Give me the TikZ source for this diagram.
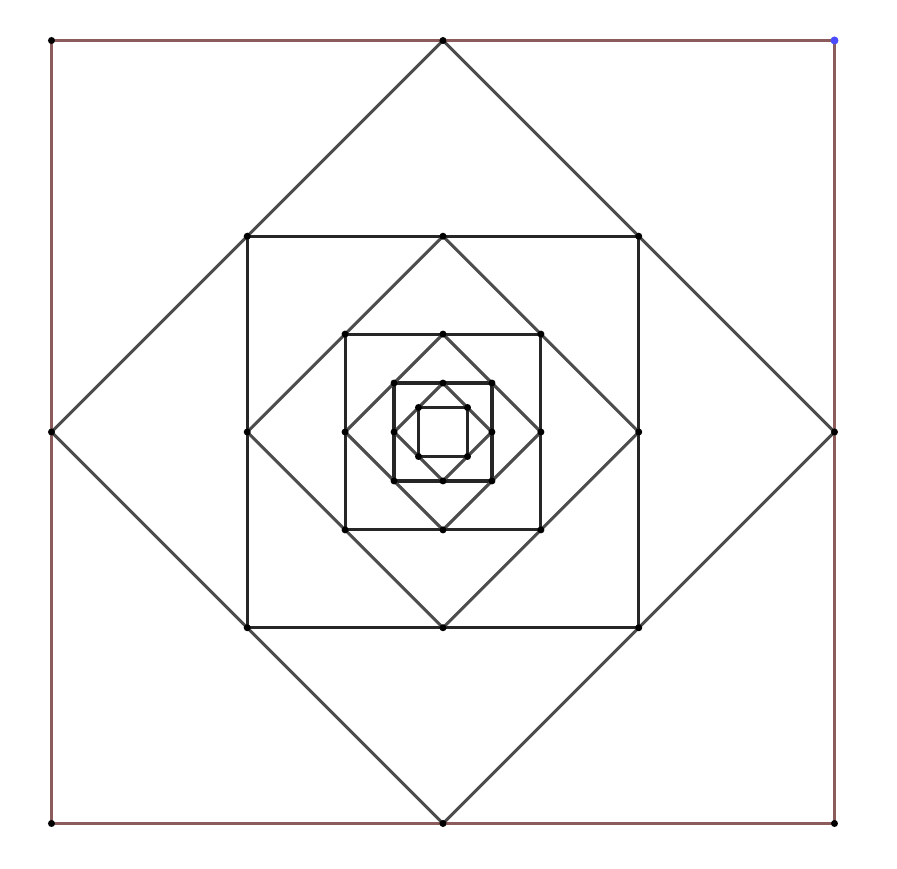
\documentclass[tikz,border=0pt]{standalone}
\definecolor{framebrown}{RGB}{140,92,92}
\begin{document}
\begin{tikzpicture}[line cap=round, line join=round]
            \useasboundingbox(-4.43,-4.37)rectangle(4.54,4.32);
            \tikzset{sq/.style={draw=black!85, line width=0.9pt}, dm/.style={draw=black!70, line width=0.9pt}, vx/.style={fill=black}}
            \draw[framebrown, line width=0.9pt](-3.915,-3.915)rectangle(3.915,3.915);
            \foreach \h in{1.9575,0.979,0.4895,0.245}
            \draw[sq](-\h,-\h)rectangle(\h,\h);
            \foreach \h in{3.915,1.9575,0.979,0.4895}
            \draw[dm](\h,0)--(0,\h)--(-\h,0)--(0,-\h)--cycle;
            \foreach \h in{3.915,1.9575,0.979,0.4895}{
            \foreach \x/\y in{-1/-1,-1/1,1/-1,0/1,0/-1,1/0,-1/0}
            \fill[vx](\x*\h,\y*\h)circle(0.035);
            }
            \foreach \x/\y in{-1/-1,-1/1,1/-1,1/1}
            \fill[vx](\x*0.245,\y*0.245)circle(0.035);
            \fill[blue!70](3.915,3.915)circle(0.04);
            \foreach \h in{1.9575,0.979,0.4895}
            \fill[vx](\h,\h)circle(0.035);
        \end{tikzpicture}
\end{document}
